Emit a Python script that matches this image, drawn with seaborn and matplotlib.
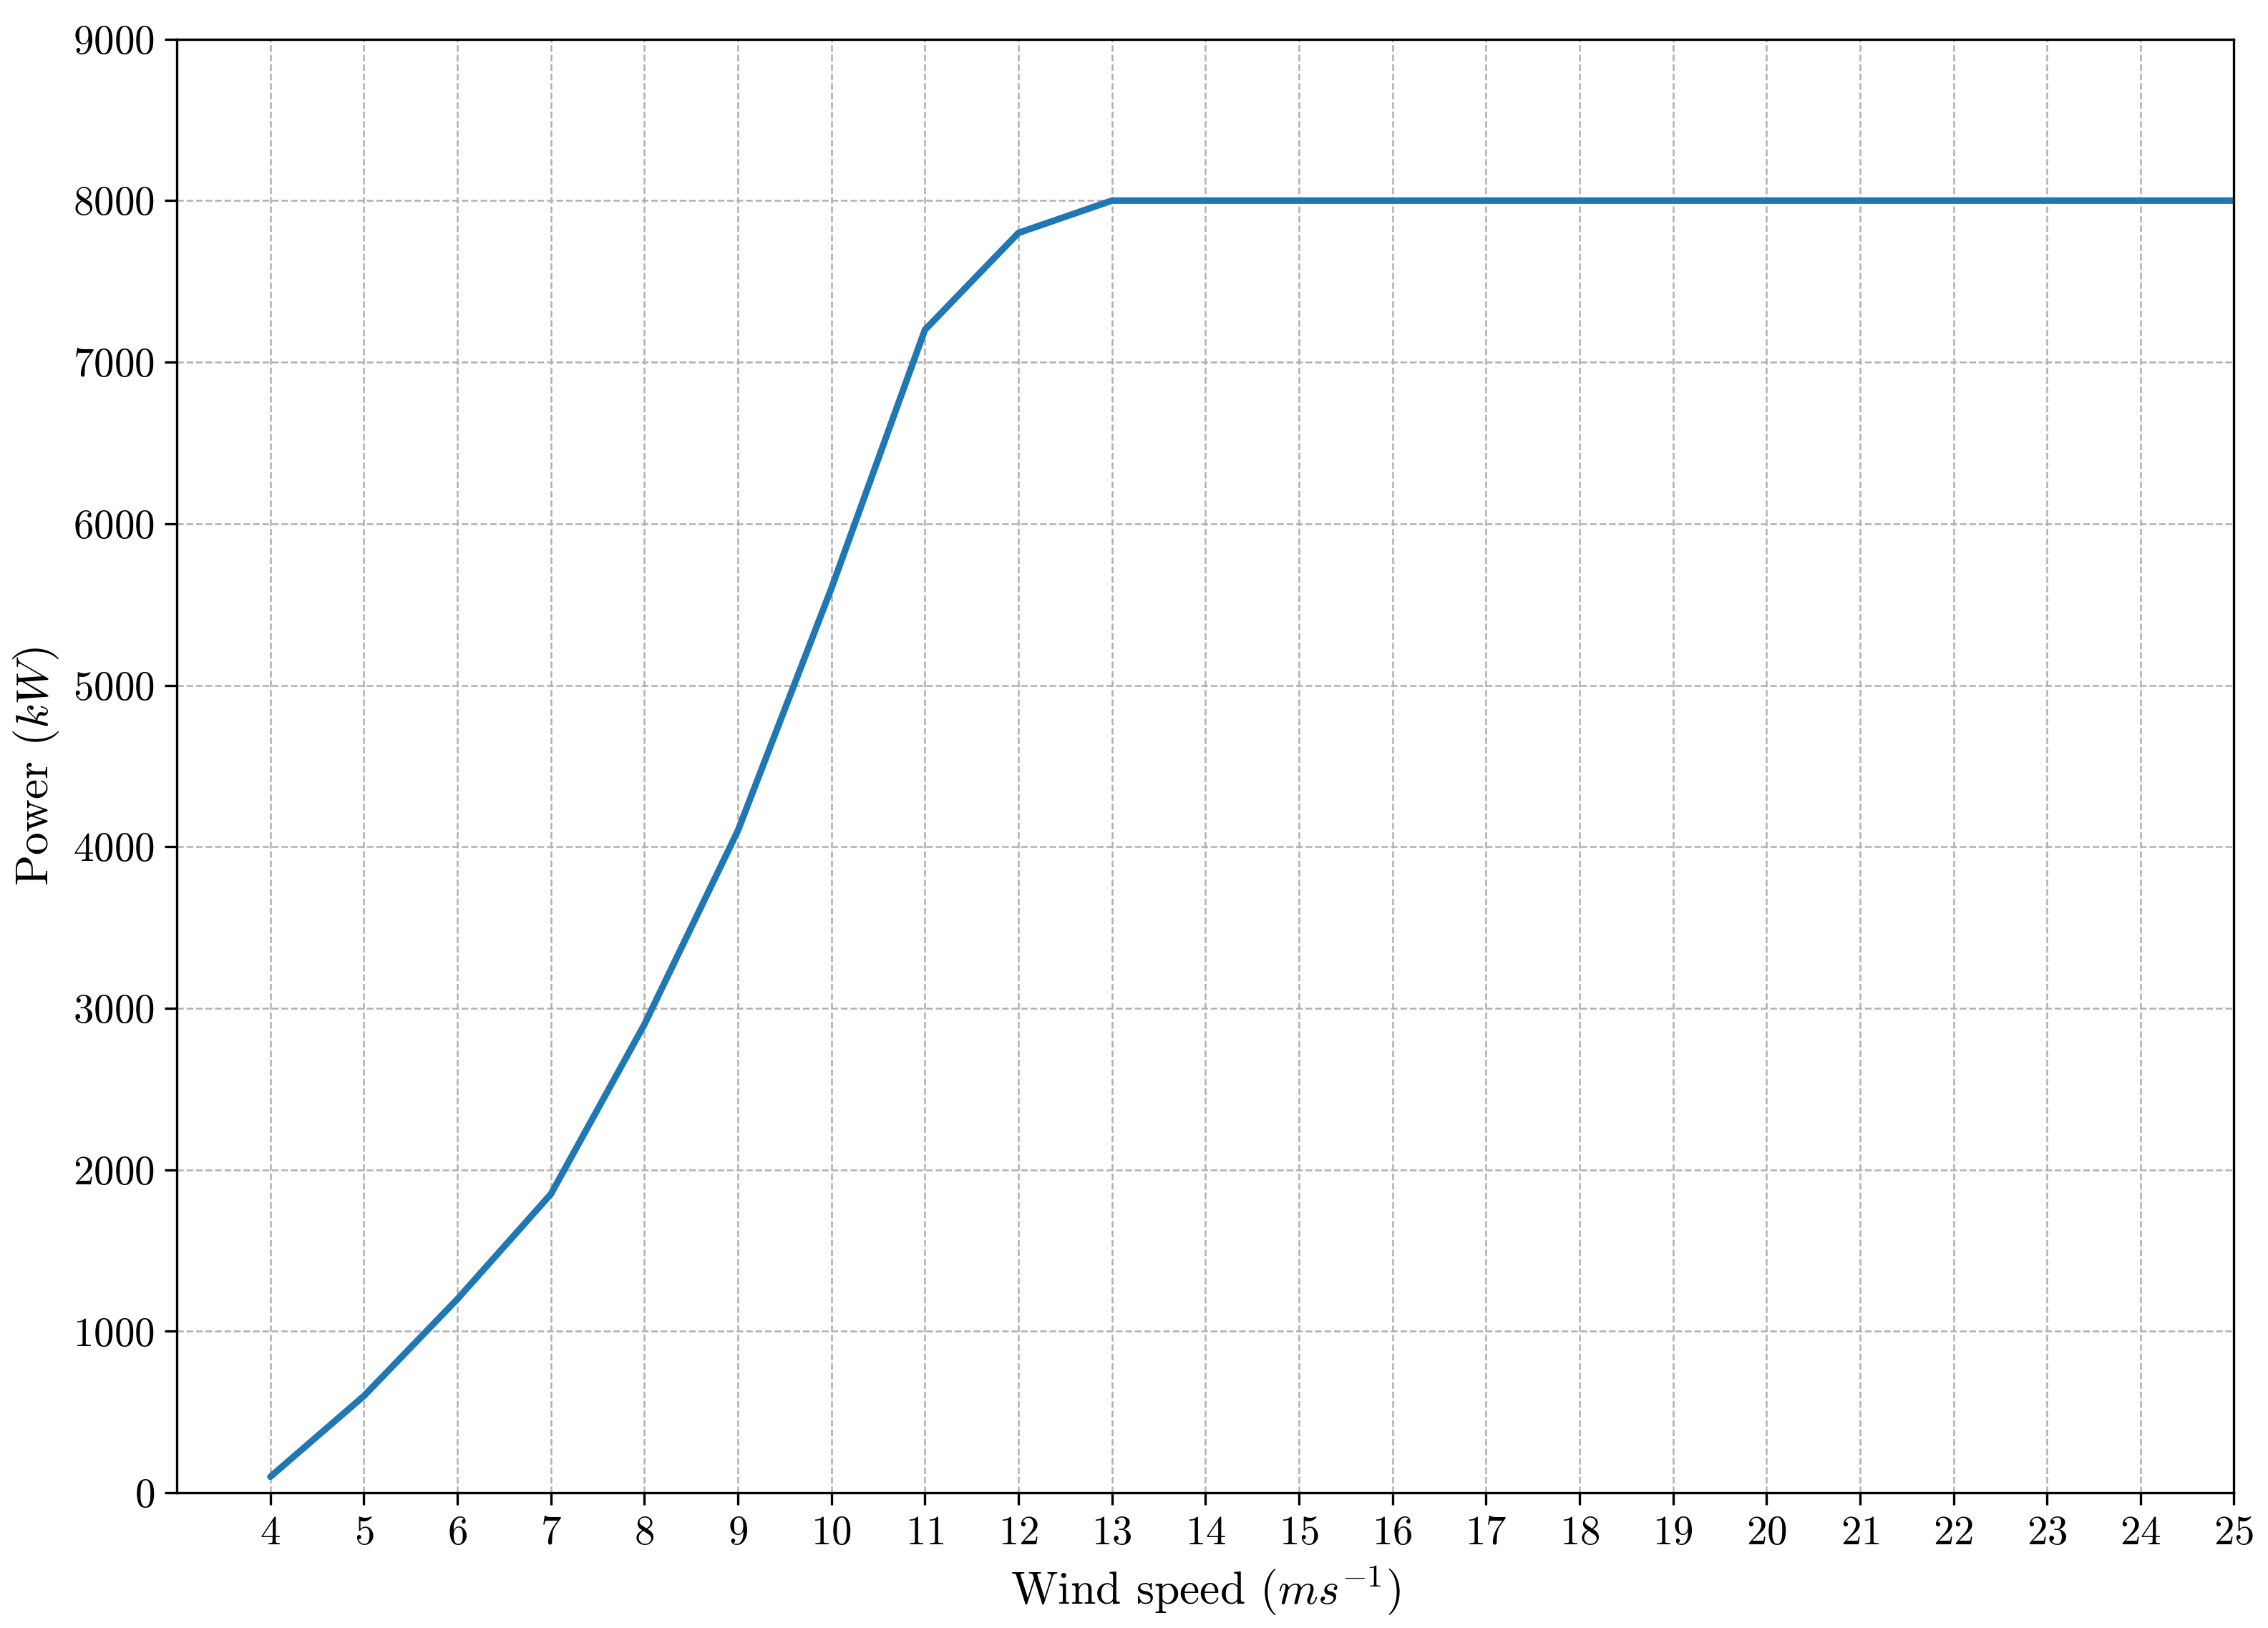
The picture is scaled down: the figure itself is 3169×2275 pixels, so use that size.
import numpy as np
import pandas as pd
import seaborn as sns
import matplotlib
matplotlib.use("Agg")
import matplotlib.pyplot as plt

# Power curve
wind_speed = [4, 5, 6, 7, 8, 9, 10, 11, 12, 13, 14, 15, 16, 17, 18, 19, 20, 21, 22, 23, 24, 25]
power_kw = [100, 600, 1200, 1850, 2900, 4100, 5600, 7200, 7800, 8000, 8000, 8000, 8000,
            8000, 8000, 8000, 8000, 8000, 8000, 8000, 8000, 8000]
y_ticks = [0, 1000, 2000, 3000, 4000, 5000, 6000, 7000, 8000, 9000]

df = pd.DataFrame({'Wind speed': wind_speed, 'Power': power_kw})

sns.set_theme(style="ticks")
plt.rcParams['font.family'] = 'serif'
plt.rcParams['font.serif'] = ['cmr10']
plt.rcParams['mathtext.fontset'] = 'cm'
plt.rcParams['axes.formatter.use_mathtext'] = True
plt.rcParams['axes.unicode_minus'] = False

fig, ax = plt.subplots(figsize=(3169 / 300, 2275 / 300), dpi=300)

sns.lineplot(data=df, x='Wind speed', y='Power', color='#1f77b4', linewidth=2.2, ax=ax)

ax.set_xlim(3, 25)
ax.set_ylim(0, 9000)
ax.set_xticks(wind_speed)
ax.set_yticks(y_ticks)
ax.tick_params(labelsize=13.7, direction='out', length=4, width=0.8, colors='black')
ax.grid(True, linestyle='--', color='#b0b0b0', linewidth=0.6)
for sp in ax.spines.values():
    sp.set_color('black')
    sp.set_linewidth(0.8)

ax.set_xlabel(r'Wind speed ($ms^{-1}$)', fontsize=15.3, color='black')
ax.set_ylabel(r'Power ($kW$)', fontsize=15.3, color='black')

plt.subplots_adjust(left=0.078, right=0.985, top=0.976, bottom=0.083)
plt.savefig('out.png', dpi=300)
